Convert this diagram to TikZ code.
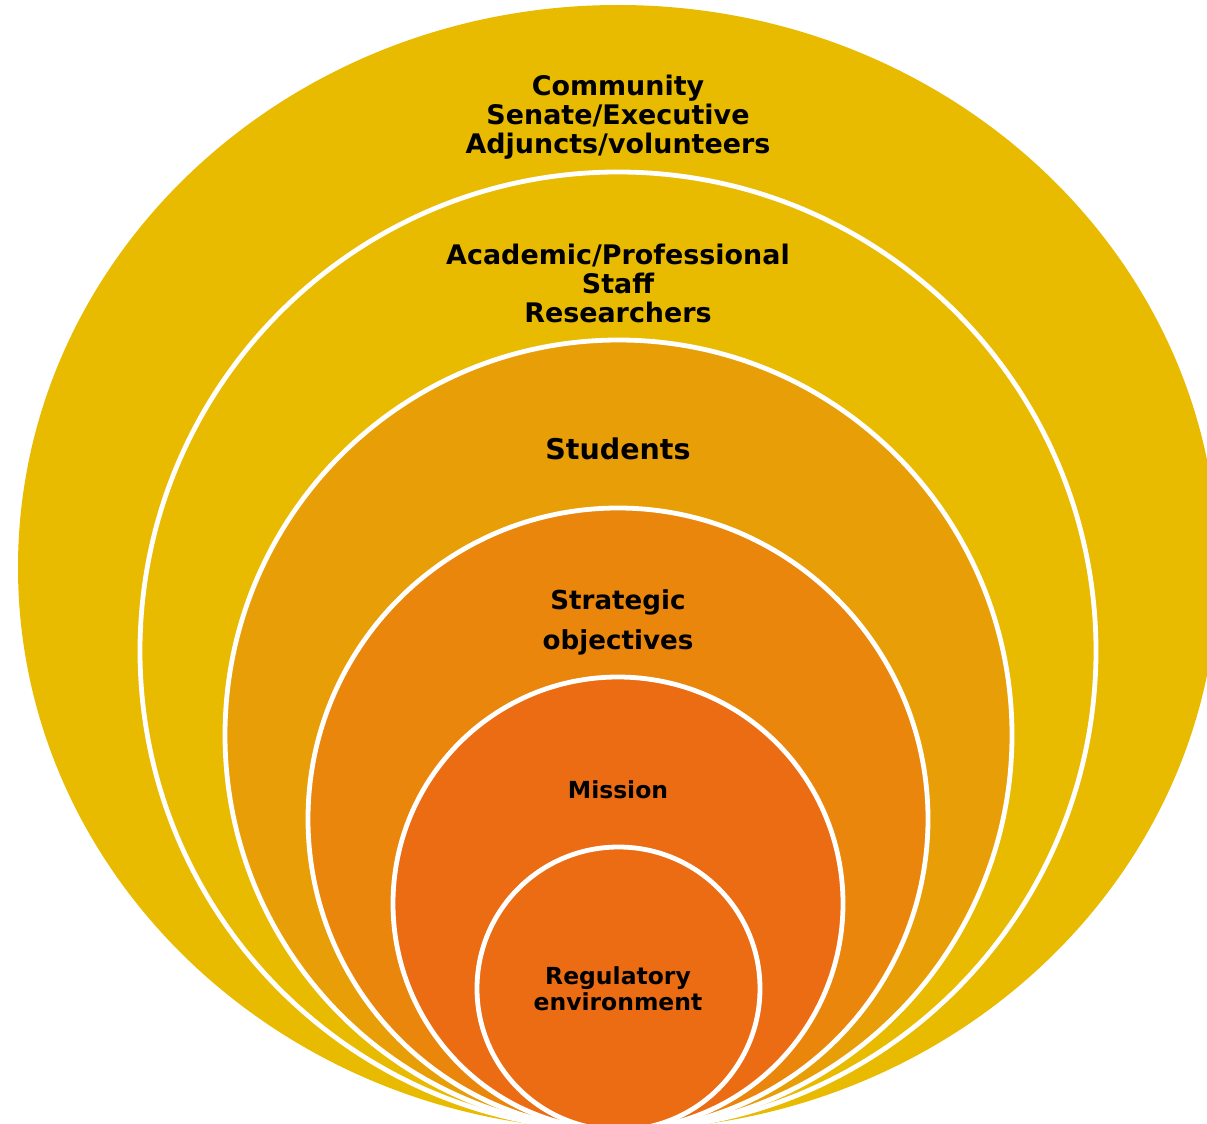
\documentclass[tikz,border=0pt]{standalone}
\usepackage{fontspec}
\setmainfont{DejaVu Sans}
\definecolor{ringA}{HTML}{E8BA00}
\definecolor{ringB}{HTML}{E8BA00}
\definecolor{ringC}{HTML}{E89E06}
\definecolor{ringD}{HTML}{EA860C}
\definecolor{ringE}{HTML}{EB6C12}
\definecolor{ringF}{HTML}{EB6C12}
\tikzset{
  ring/.style={draw=white, line width=3.6pt},
  lbl/.style={align=center, text=black, inner sep=0pt, font=\bfseries}
}
\begin{document}
\begin{tikzpicture}[x=0.75pt,y=-0.75pt]
\useasboundingbox (0,0) rectangle (1207,1124);
\clip (0,0) rectangle (1207,1124);
\path[fill=ringA] (618,567.5) ellipse [x radius=600, y radius=562.5];
\path[ring, fill=ringB] (618,651) ellipse [x radius=478, y radius=479];
\path[ring, fill=ringC] (618.5,735) ellipse [x radius=393.5, y radius=395];
\path[ring, fill=ringD] (618,819) ellipse [x radius=310, y radius=311];
\path[ring, fill=ringE] (618,903.5) ellipse [x radius=225, y radius=226.5];
\path[ring, fill=ringF] (618.5,988.5) ellipse [x radius=141.5, y radius=141.5];

\node[lbl, font=\fontsize{20.2}{21.75}\selectfont\bfseries] (community) at (618,117)
  {Community\\Senate/Executive\\Adjuncts/volunteers};
\node[lbl, font=\fontsize{20.2}{21.75}\selectfont\bfseries] (staff) at (618,283)
  {Academic/Professional\\Staff\\Researchers};
\node[lbl, font=\fontsize{21.4}{24}\selectfont\bfseries] (students) at (618,449)
  {Students};
\node[lbl, font=\fontsize{19.6}{30}\selectfont\bfseries] (strategic) at (618,622)
  {Strategic\\objectives};
\node[lbl, font=\fontsize{17.6}{20}\selectfont\bfseries] (mission) at (618,790)
  {Mission};
\node[lbl, font=\fontsize{17.6}{19.5}\selectfont\bfseries] (regulatory) at (618,989)
  {Regulatory\\environment};
\end{tikzpicture}
\end{document}
